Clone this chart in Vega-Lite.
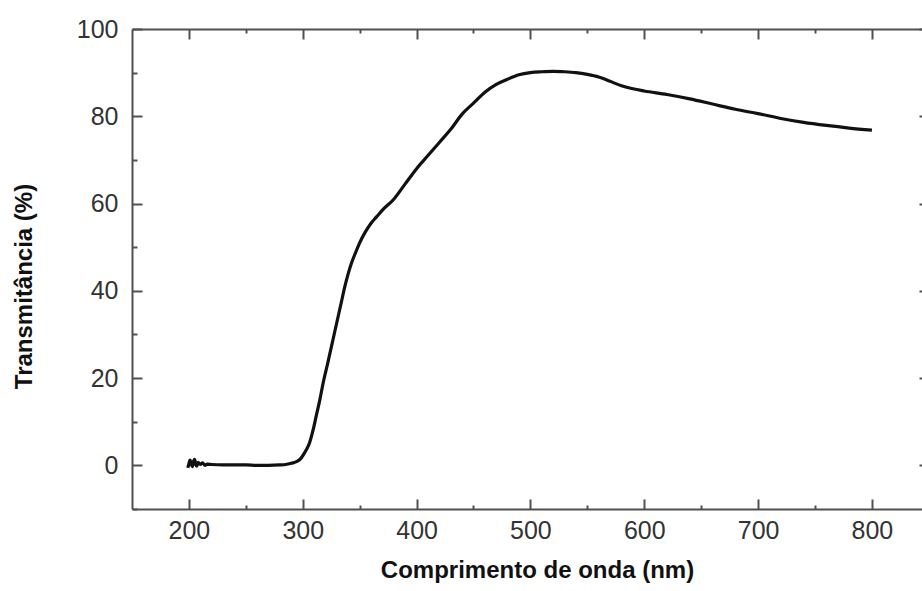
{
  "$schema": "https://vega.github.io/schema/vega-lite/v6.json",
  "autosize": {"type": "none"},
  "padding": {"left": 132, "top": 29, "right": 0, "bottom": 82},
  "width": 790,
  "height": 480,
  "background": "white",
  "config": {
    "view": {"stroke": null},
    "axis": {"grid": false, "domainColor": "#505050", "domainWidth": 2, "tickColor": "#505050", "tickWidth": 2, "labelFont": "Liberation Sans", "labelColor": "#333333", "titleFont": "Liberation Sans", "titleColor": "#111111"}
  },
  "data": {"values": [
    {"wl": 199, "t": -0.6}, {"wl": 200, "t": 0.4}, {"wl": 201, "t": 1.2}, {"wl": 202, "t": 0.3},
    {"wl": 203, "t": -0.3}, {"wl": 204, "t": 0.9}, {"wl": 205, "t": 1.4}, {"wl": 206, "t": 0.2},
    {"wl": 207, "t": -0.2}, {"wl": 208, "t": 0.7}, {"wl": 210, "t": 0.2}, {"wl": 212, "t": 0.6},
    {"wl": 214, "t": 0.0}, {"wl": 216, "t": 0.3},
    {"wl": 220, "t": 0.2}, {"wl": 230, "t": 0.1}, {"wl": 240, "t": 0.1}, {"wl": 250, "t": 0.1},
    {"wl": 260, "t": 0.0}, {"wl": 270, "t": 0.0}, {"wl": 280, "t": 0.1}, {"wl": 285, "t": 0.2},
    {"wl": 290, "t": 0.5}, {"wl": 295, "t": 0.9}, {"wl": 298, "t": 1.5}, {"wl": 300, "t": 2.2},
    {"wl": 303, "t": 3.5}, {"wl": 306, "t": 5.2}, {"wl": 309, "t": 8}, {"wl": 312, "t": 11.5},
    {"wl": 315, "t": 15}, {"wl": 318, "t": 19}, {"wl": 322, "t": 23.5}, {"wl": 325, "t": 27},
    {"wl": 328, "t": 30.5}, {"wl": 331, "t": 34}, {"wl": 334, "t": 37.5}, {"wl": 337, "t": 41},
    {"wl": 340, "t": 44}, {"wl": 343, "t": 46.5}, {"wl": 346, "t": 48.5}, {"wl": 350, "t": 51},
    {"wl": 355, "t": 53.5}, {"wl": 360, "t": 55.5}, {"wl": 365, "t": 57}, {"wl": 370, "t": 58.5},
    {"wl": 380, "t": 61}, {"wl": 390, "t": 64.5}, {"wl": 400, "t": 68}, {"wl": 410, "t": 71},
    {"wl": 420, "t": 74}, {"wl": 430, "t": 77}, {"wl": 440, "t": 80.5}, {"wl": 450, "t": 83},
    {"wl": 460, "t": 85.5}, {"wl": 470, "t": 87.3}, {"wl": 480, "t": 88.5}, {"wl": 490, "t": 89.5},
    {"wl": 500, "t": 90}, {"wl": 510, "t": 90.2}, {"wl": 520, "t": 90.3}, {"wl": 530, "t": 90.2},
    {"wl": 540, "t": 90}, {"wl": 550, "t": 89.6}, {"wl": 560, "t": 89}, {"wl": 570, "t": 88},
    {"wl": 580, "t": 87}, {"wl": 590, "t": 86.3}, {"wl": 600, "t": 85.8}, {"wl": 620, "t": 85},
    {"wl": 640, "t": 84}, {"wl": 660, "t": 82.8}, {"wl": 680, "t": 81.6}, {"wl": 700, "t": 80.6},
    {"wl": 720, "t": 79.5}, {"wl": 740, "t": 78.6}, {"wl": 760, "t": 77.9}, {"wl": 780, "t": 77.3},
    {"wl": 800, "t": 76.8}
  ]},
  "layer": [
    {
      "mark": {"type": "line", "color": "#111111", "strokeWidth": 3.2, "interpolate": "monotone"},
      "encoding": {
        "x": {"field": "wl", "type": "quantitative", "scale": {"domain": [150, 844], "nice": false, "zero": false},
          "axis": {"orient": "bottom", "values": [200, 300, 400, 500, 600, 700, 800], "tickSize": -10, "labelPadding": 19, "labelFontSize": 25, "title": "Comprimento de onda (nm)", "titleFontSize": 24, "titleFontWeight": "bold", "titleBaseline": "alphabetic", "titleX": 405, "titleY": 68}},
        "y": {"field": "t", "type": "quantitative", "scale": {"domain": [-10, 100], "nice": false, "zero": false},
          "axis": {"orient": "left", "values": [0, 20, 40, 60, 80, 100], "tickSize": -10, "labelPadding": 24, "labelFontSize": 25, "title": "Transmitância (%)", "titleFontSize": 24, "titleFontWeight": "bold", "titleX": -108, "titleY": 257, "titleAnchor": "middle", "titleBaseline": "middle"}}
      }
    },
    {
      "mark": {"type": "line", "opacity": 0},
      "encoding": {
        "x": {"field": "wl", "type": "quantitative", "axis": {"orient": "top", "values": [200, 300, 400, 500, 600, 700, 800], "tickSize": -10, "labels": false, "title": null}},
        "y": {"field": "t", "type": "quantitative", "axis": {"orient": "right", "offset": 7, "values": [0, 20, 40, 60, 80, 100], "tickSize": -10, "labels": false, "title": null}}
      }
    },
    {
      "mark": {"type": "line", "opacity": 0},
      "encoding": {
        "x": {"field": "wl", "type": "quantitative", "axis": {"orient": "bottom", "values": [250, 350, 450, 550, 650, 750], "tickSize": -4, "domain": false, "labels": false, "title": null}},
        "y": {"field": "t", "type": "quantitative", "axis": {"orient": "left", "values": [-10, 10, 30, 50, 70, 90], "tickSize": -5, "domain": false, "labels": false, "title": null}}
      }
    },
    {
      "mark": {"type": "line", "opacity": 0},
      "encoding": {
        "x": {"field": "wl", "type": "quantitative", "axis": {"orient": "top", "values": [250, 350, 450, 550, 650, 750], "tickSize": -4, "domain": false, "labels": false, "title": null}},
        "y": {"field": "t", "type": "quantitative", "axis": {"orient": "right", "offset": 7, "values": [-10, 10, 30, 50, 70, 90], "tickSize": -5, "domain": false, "labels": false, "title": null}}
      }
    }
  ],
  "resolve": {"axis": {"x": "independent", "y": "independent"}}
}
